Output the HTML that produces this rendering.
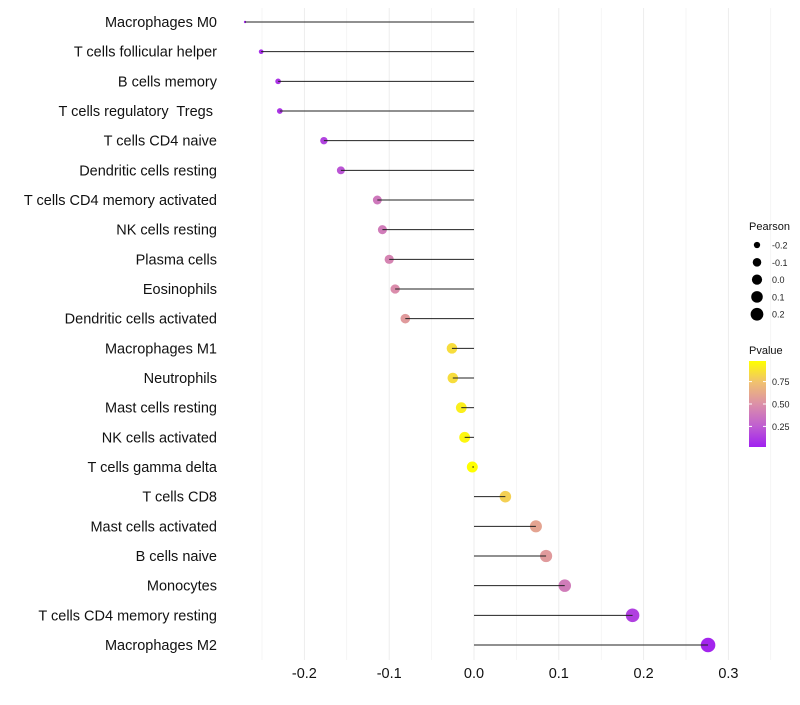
<!DOCTYPE html>
<html><head><meta charset="utf-8"><style>
body{margin:0;background:#fff;font-family:"Liberation Sans",sans-serif;}
text{white-space:pre;}
</style></head><body>
<svg id="chart" width="800" height="700" xmlns="http://www.w3.org/2000/svg">
<defs><linearGradient id="pg" x1="0" y1="1" x2="0" y2="0">
<stop offset="0" stop-color="#a020f0"/><stop offset="0.25" stop-color="#c060d0"/><stop offset="0.5" stop-color="#dc90a8"/><stop offset="0.75" stop-color="#f0c070"/><stop offset="1" stop-color="#ffff00"/></linearGradient></defs>
<g id="grid"></g><g id="dots"></g><g id="marks"></g><g id="labels"></g><g id="legend"></g>
</svg>
<script>
const categories=["Macrophages M0","T cells follicular helper","B cells memory","T cells regulatory  Tregs ","T cells CD4 naive","Dendritic cells resting","T cells CD4 memory activated","NK cells resting","Plasma cells","Eosinophils","Dendritic cells activated","Macrophages M1","Neutrophils","Mast cells resting","NK cells activated","T cells gamma delta","T cells CD8","Mast cells activated","B cells naive","Monocytes","T cells CD4 memory resting","Macrophages M2"];
const pearson=[-0.270,-0.251,-0.231,-0.229,-0.177,-0.157,-0.114,-0.108,-0.100,-0.093,-0.081,-0.026,-0.025,-0.015,-0.011,-0.002,0.037,0.073,0.085,0.107,0.187,0.276];
const pvalue=[0.04,0.07,0.1,0.1,0.15,0.22,0.38,0.4,0.44,0.48,0.55,0.85,0.85,0.92,0.95,0.99,0.8,0.6,0.55,0.4,0.14,0.04];
const xTicks=[-0.2,-0.1,0.0,0.1,0.2,0.3];
const xTickLabels=["-0.2","-0.1","0.0","0.1","0.2","0.3"];
const legendSizes=[-0.2,-0.1,0.0,0.1,0.2];
const legendSizeLabels=["-0.2","-0.1","0.0","0.1","0.2"];
const legendP=[0.25,0.5,0.75];
const legendPLabels=["0.25","0.50","0.75"];

const NS="http://www.w3.org/2000/svg";
const x=v=>474+v*848;
const y=i=>22+i*(623/21);
const r=v=>1.2+6.1*Math.sqrt(Math.max(0,(v+0.27)/0.546));
function lerp(a,b,t){return a+(b-a)*t;}
const stops=[[0,[160,32,240]],[0.25,[192,96,208]],[0.5,[220,144,168]],[0.75,[240,192,112]],[1,[255,255,0]]];
function col(p){p=Math.max(0,Math.min(1,(p-0.02)/0.96));for(let k=0;k<stops.length-1;k++){const [a,ca]=stops[k],[b,cb]=stops[k+1];if(p<=b){const t=(p-a)/(b-a);return `rgb(${ca.map((c,j)=>Math.round(lerp(c,cb[j],t))).join(',')})`;}}return "rgb(255,255,0)";}
function mk(tag,attrs,parent,text){const e=document.createElementNS(NS,tag);for(const k in attrs)e.setAttribute(k,attrs[k]);if(text!==undefined)e.textContent=text;document.getElementById(parent).appendChild(e);return e;}

const gy0=8,gy1=660;
for(let v=-0.25;v<=0.35;v+=0.05){const l=mk('line',{x1:x(v),x2:x(v),y1:gy0,y2:gy1,stroke:'#ededed','stroke-width':Math.abs(Math.round(v*100)%10)<1?1:0.5},'grid');

}
categories.forEach((c,i)=>{
const d=mk('circle',{cx:x(pearson[i]),cy:y(i),r:r(pearson[i]),fill:col(pvalue[i])},'dots');


const s=mk('line',{x1:x(0),x2:x(pearson[i]),y1:y(i),y2:y(i),stroke:'#222','stroke-width':1},'marks');


const t=mk('text',{x:217,y:y(i)+5,'text-anchor':'end','font-size':14.5,fill:'#111'},'labels',c);


});
xTicks.forEach((v,i)=>{const t=mk('text',{x:x(v),y:678,'text-anchor':'middle','font-size':14.5,fill:'#111'},'labels',xTickLabels[i]);

});
const lt=mk('text',{x:749,y:230,'font-size':11,fill:'#111'},'legend','Pearson');


legendSizes.forEach((v,i)=>{const cy=245+i*17.3;
const c=mk('circle',{cx:757,cy:cy,r:r(v)*0.93,fill:'#000'},'legend');


const t=mk('text',{x:772,y:cy+3.5,'font-size':9,fill:'#222'},'legend',legendSizeLabels[i]);

});
const pt=mk('text',{x:749,y:354,'font-size':11,fill:'#111'},'legend','Pvalue');


const bar=mk('rect',{x:749,y:361,width:17,height:86,fill:'url(#pg)'},'legend');


legendP.forEach((v,i)=>{const cy=447-(v-0.02)/0.96*86;
mk('line',{x1:749,x2:752,y1:cy,y2:cy,stroke:'#fff'},'legend');
mk('line',{x1:763,x2:766,y1:cy,y2:cy,stroke:'#fff'},'legend');
const t=mk('text',{x:772,y:cy+3.5,'font-size':9,fill:'#222'},'legend',legendPLabels[i]);

});
</script>
</body></html>
